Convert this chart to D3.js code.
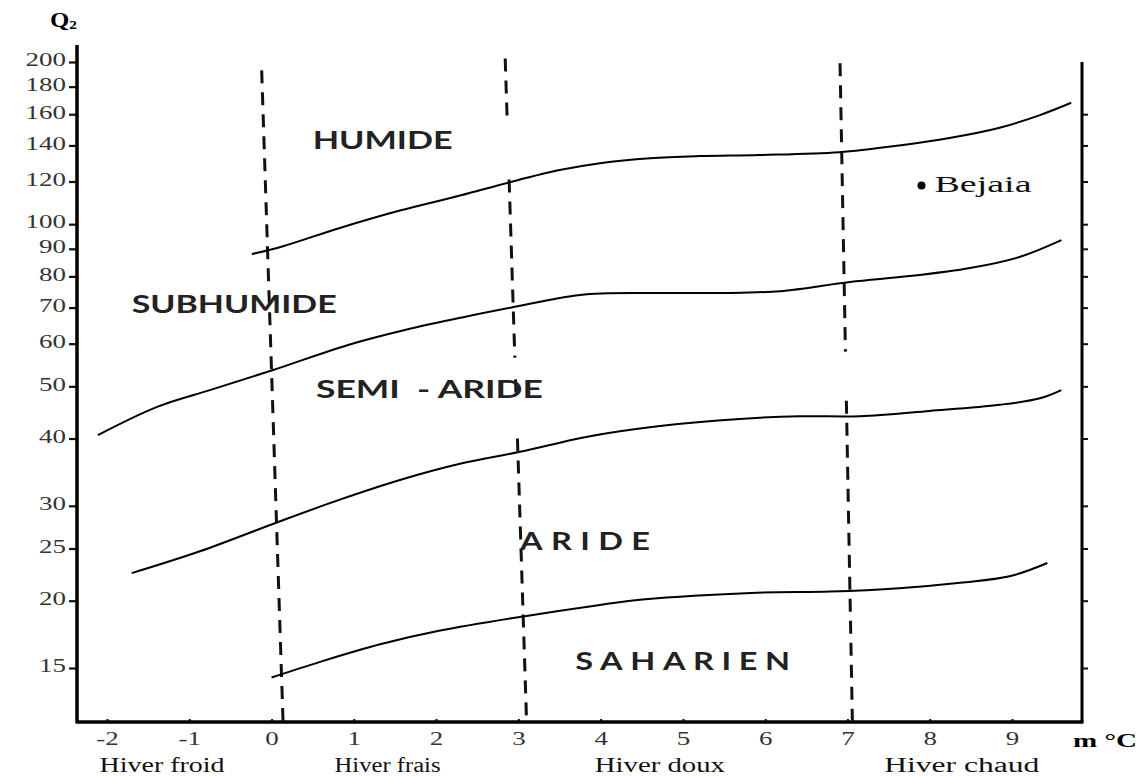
<!DOCTYPE html>
<html lang="fr">
<head>
<meta charset="utf-8">
<title>Climagramme d'Emberger</title>
<script src="https://cdn.jsdelivr.net/npm/d3@7/dist/d3.min.js"></script>
<style>
	body {margin: 0; background: white;}
	svg {display: block;}
	.serif {font-family: "Liberation Serif", "Times New Roman", serif;}
	.zone {font-family: Lato, "Open Sans", sans-serif; font-weight: 700; fill: #222;}
</style>
</head>
<body>
<svg width="1141" height="776"></svg>
<script>
// graduations
var q2Ticks = [15, 20, 25, 30, 40, 50, 60, 70, 80, 90, 100, 120, 140, 160, 180, 200];
var q2TicksDroite = [15, 20, 25, 30, 40, 50, 60, 70, 80, 90, 100, 120, 140, 160];
var mTicks = [-2, -1, 0, 1, 2, 3, 4, 5, 6, 7, 8, 9];

// limites entre étages bioclimatiques [m, Q2]
var limiteHumide = [[-0.24, 88], [0.14, 91], [0.83, 98.4], [1.56, 106], [2.29, 113], [2.9, 119.7], [3.5, 126], [3.99, 129.8], [4.6, 132.6], [5.2, 133.8], [5.93, 134.4], [6.9, 136], [7.63, 140], [8.24, 144.5], [8.85, 151], [9.34, 159.4], [9.72, 168]];
var limiteSubhumide = [[-2.11, 40.6], [-1.39, 45.8], [-0.75, 49.2], [0.02, 53.6], [0.92, 59.6], [1.62, 63.6], [2.33, 67.2], [2.93, 70.1], [3.75, 73.9], [4.6, 74.5], [5.45, 74.5], [6.18, 75.1], [7.03, 78.1], [7.76, 80.1], [8.49, 82.9], [9.09, 86.9], [9.6, 93.4]];
var limiteSemiAride = [[-1.7, 22.5], [-0.87, 24.7], [0.08, 28], [0.83, 30.8], [1.56, 33.5], [2.29, 35.9], [3.02, 37.8], [3.87, 40.4], [4.72, 42.2], [5.69, 43.5], [6.42, 44], [7.15, 44], [8.0, 45], [8.85, 46.2], [9.34, 47.5], [9.6, 49.2]];
var limiteAride = [[0.0, 14.4], [0.59, 15.4], [1.32, 16.6], [2.05, 17.6], [3.06, 18.7], [3.95, 19.6], [4.51, 20.1], [5.9, 20.7], [6.79, 20.8], [7.63, 21.1], [8.37, 21.6], [8.97, 22.2], [9.43, 23.5]];

// noms des étages, ancrés en (m, Q2)
var etages = ["HUMIDE", "SUBHUMIDE", "SEMI  - ARIDE", "ARIDE", "SAHARIEN"];
var etagesM = [0.5, -1.7, 0.54, 3.02, 3.69];
var etagesQ2 = [138, 68.4, 47.6, 24.8, 14.9];

// variantes thermiques
var hivers = ["Hiver froid", "Hiver frais", "Hiver doux", "Hiver chaud"];
var hiversM = [-1.33, 1.41, 4.72, 8.39];

// séparations en tirets : m en haut / en bas, puis tronçons [Q2 haut, Q2 bas]
var separM = [[-0.12, 0.14], [2.84, 3.10], [6.91, 7.06]];
var separQ2 = [
	[[193, 11.9]],
	[[203, 155], [121, 56.5], [51.5, 47.5], [40, 11.9]],
	[[199, 58], [47, 11.9]]
];

// station
var stations = ["Bejaia"];
var stationsM = [7.9];
var stationsQ2 = [118];

var svg = d3.select("svg");

var x = d3.scaleLinear().domain([-2, 9]).range([107, 1012]);
var y = d3.scaleLog().domain([15, 200]).range([668, 62]);

var gauche = 77, droite = 1082, bas = 722;
var etirement = 1.42;

function etirer(sel) {
	sel.attr("lengthAdjust", "spacingAndGlyphs")
		.attr("textLength", function () { return this.getComputedTextLength() * etirement; });
}

// axe gauche
var axeQ2 = svg.append("g")
	.attr("transform", "translate(" + gauche + ",0)")
	.call(d3.axisLeft(y).tickValues(q2Ticks).tickFormat(function (d) { return String(d); }).tickSize(8).tickPadding(3));
axeQ2.select(".domain").remove();
axeQ2.selectAll("line").attr("stroke-width", 2.2).attr("stroke", "#111");
axeQ2.selectAll("text")
	.attr("class", "serif")
	.attr("font-size", 19)
	.attr("fill", "#333")
	.attr("dy", "0.2em")
	.call(etirer);

// axe droit (graduations seules)
var axeDroit = svg.append("g")
	.attr("transform", "translate(" + droite + ",0)")
	.call(d3.axisRight(y).tickValues(q2TicksDroite).tickFormat("").tickSize(6));
axeDroit.select(".domain").remove();
axeDroit.selectAll("line").attr("stroke-width", 2).attr("stroke", "#111");

// axe des m
var axeM = svg.append("g")
	.attr("transform", "translate(0," + bas + ")")
	.call(d3.axisBottom(x).tickValues(mTicks).tickFormat(function (d) { return String(d); }).tickSizeInner(-3).tickSizeOuter(0).tickPadding(10));
axeM.select(".domain").remove();
axeM.selectAll("line").attr("stroke-width", 2).attr("stroke", "#111");
axeM.selectAll("text")
	.attr("class", "serif")
	.attr("font-size", 19)
	.attr("fill", "#333")
	.call(etirer);

// cadre
var cadre = svg.append("g").attr("stroke", "#000").attr("fill", "none");
cadre.append("line").attr("x1", gauche).attr("x2", gauche).attr("y1", 45).attr("y2", bas + 1.5).attr("stroke-width", 3.5);
cadre.append("line").attr("x1", gauche).attr("x2", droite + 1.5).attr("y1", bas).attr("y2", bas).attr("stroke-width", 3.5);
cadre.append("line").attr("x1", droite).attr("x2", droite).attr("y1", 62).attr("y2", bas).attr("stroke-width", 3);

// séparations des hivers
separQ2.forEach(function (troncons, i) {
	var yHaut = y(troncons[0][0]);
	var yBas = y(troncons[troncons.length - 1][1]);
	var xHaut = x(separM[i][0]);
	var xBas = x(separM[i][1]);
	var xA = function (yy) { return xHaut + (xBas - xHaut) * (yy - yHaut) / (yBas - yHaut); };
	troncons.forEach(function (t) {
		var y1 = y(t[0]), y2 = y(t[1]);
		svg.append("line")
			.attr("x1", xA(y1)).attr("y1", y1)
			.attr("x2", xA(y2)).attr("y2", y2)
			.attr("stroke", "#111")
			.attr("stroke-width", 3)
			.attr("stroke-dasharray", "13,9");
	});
});

// limites entre étages
var ligne = d3.line()
	.x(function (d) { return x(d[0]); })
	.y(function (d) { return y(d[1]); })
	.curve(d3.curveCatmullRom.alpha(0.5));

svg.selectAll("path.limite")
	.data([limiteHumide, limiteSubhumide, limiteSemiAride, limiteAride])
	.enter()
	.append("path")
	.classed("limite", true)
	.attr("d", ligne)
	.attr("fill", "none")
	.attr("stroke", "#000")
	.attr("stroke-width", 2);

// noms des étages (ARIDE et SAHARIEN sont espacés)
var largeurEtages = [140, 205, 227, 130, 215];
var espaceEtages = [false, false, false, true, true];
svg.selectAll("text.zone")
	.data(etages)
	.enter()
	.append("text")
	.attr("class", "zone")
	.attr("font-size", 25)
	.attr("xml:space", "preserve")
	.style("white-space", "pre")
	.attr("x", function (d, i) { return x(etagesM[i]); })
	.attr("y", function (d, i) { return y(etagesQ2[i]); })
	.attr("transform", function (d, i) {
		if (!espaceEtages[i]) return null;
		var x0 = x(etagesM[i]);
		return "translate(" + x0 + ",0) scale(1.3,1) translate(" + (-x0) + ",0)";
	})
	.attr("textLength", function (d, i) { return espaceEtages[i] ? largeurEtages[i] / 1.3 : largeurEtages[i]; })
	.attr("lengthAdjust", function (d, i) { return espaceEtages[i] ? "spacing" : "spacingAndGlyphs"; })
	.text(function (d) { return d; });

// variantes d'hiver
var largeurHivers = [125, 106, 130, 155];
svg.selectAll("text.hiver")
	.data(hivers)
	.enter()
	.append("text")
	.attr("class", "serif hiver")
	.attr("font-size", 20)
	.attr("fill", "#111")
	.attr("text-anchor", "middle")
	.attr("x", function (d, i) { return x(hiversM[i]); })
	.attr("y", 772)
	.attr("textLength", function (d, i) { return largeurHivers[i]; })
	.attr("lengthAdjust", "spacingAndGlyphs")
	.text(function (d) { return d; });

// station
var gStation = svg.selectAll("g.station")
	.data(stations)
	.enter()
	.append("g")
	.classed("station", true);
gStation.append("circle")
	.attr("cx", function (d, i) { return x(stationsM[i]); })
	.attr("cy", function (d, i) { return y(stationsQ2[i]); })
	.attr("r", 4)
	.attr("fill", "#000");
gStation.append("text")
	.attr("class", "serif")
	.attr("font-size", 23)
	.attr("fill", "#111")
	.attr("x", function (d, i) { return x(stationsM[i]) + 13; })
	.attr("y", function (d, i) { return y(stationsQ2[i]) + 7; })
	.attr("textLength", 97)
	.attr("lengthAdjust", "spacingAndGlyphs")
	.text(function (d) { return d; });

// titres des axes
var titreQ = svg.append("text")
	.attr("class", "serif")
	.attr("font-weight", "bold")
	.attr("font-size", 21)
	.attr("x", 50)
	.attr("y", 27);
titreQ.append("tspan").text("Q");
titreQ.append("tspan").attr("font-size", 13).attr("dy", 2).text("2");
titreQ.attr("textLength", 27).attr("lengthAdjust", "spacingAndGlyphs");

svg.append("text")
	.attr("class", "serif")
	.attr("font-weight", "bold")
	.attr("font-size", 19)
	.attr("x", 1073)
	.attr("y", 747)
	.attr("textLength", 64)
	.attr("lengthAdjust", "spacingAndGlyphs")
	.text("m °C");
</script>
</body>
</html>
